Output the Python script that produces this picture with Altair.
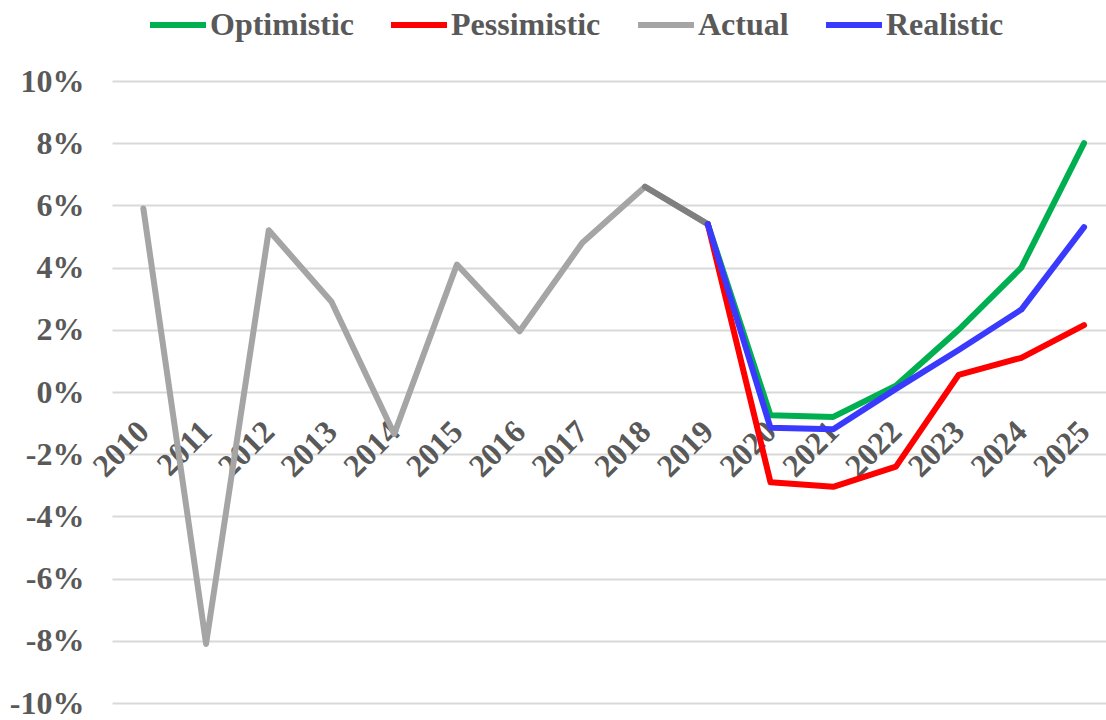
import altair as alt
import pandas as pd

# Annual growth rates (%), history and three forecast scenarios
actual_years = [2010, 2011, 2012, 2013, 2014, 2015, 2016, 2017, 2018, 2019]
actual = [5.9, -8.1, 5.2, 2.9, -1.35, 4.1, 1.95, 4.8, 6.6, 5.4]

forecast_years = [2019, 2020, 2021, 2022, 2023, 2024, 2025]
optimistic = [5.4, -0.75, -0.8, 0.2, 2.0, 4.0, 8.0]
pessimistic = [5.4, -2.9, -3.05, -2.4, 0.55, 1.1, 2.15]
realistic = [5.4, -1.15, -1.2, 0.1, 1.35, 2.65, 5.3]

year_ticks = list(range(2010, 2026))
pct_ticks = [-10, -8, -6, -4, -2, 0, 2, 4, 6, 8, 10]

series_order = ["Optimistic", "Pessimistic", "Actual", "Realistic"]
series_colors = ["#00B050", "#FF0000", "#A5A5A5", "#3A3AFF"]

rows = []
for name, yrs, vals in [
    ("Actual", actual_years, actual),
    ("Optimistic", forecast_years, optimistic),
    ("Pessimistic", forecast_years, pessimistic),
    ("Realistic", forecast_years, realistic),
]:
    for yr, v in zip(yrs, vals):
        rows.append({"year": yr, "series": name, "value": v})
df = pd.DataFrame(rows)

# last historical segment is shown in a darker grey
last_seg = pd.DataFrame({"year": actual_years[-2:], "value": actual[-2:]})

FONT = "Liberation Serif"
TEXT = "#595959"
PLOT_H = 622
LINE_W = 6

x_enc = alt.X(
    "year:Q",
    title=None,
    scale=alt.Scale(domain=[2009.5, 2025.35], nice=False, zero=False),
    axis=alt.Axis(
        values=year_ticks,
        format="d",
        orient="bottom",
        offset=-PLOT_H / 2,
        domain=False,
        ticks=False,
        tickSize=0,
        grid=False,
        labelAngle=-45,
        labelAlign="right",
        labelBaseline="middle",
        labelPadding=34,
        labelOverlap=False,
        labelFlush=False,
        labelBound=False,
        labelFont=FONT,
        labelFontSize=32,
        labelFontWeight="bold",
        labelColor=TEXT,
    ),
)
y_enc = alt.Y(
    "value:Q",
    title=None,
    scale=alt.Scale(domain=[-10, 10], nice=False),
    axis=alt.Axis(
        values=pct_ticks,
        labelExpr="datum.value + '%'",
        domain=False,
        ticks=False,
        tickSize=0,
        grid=True,
        gridColor="#D9D9D9",
        gridWidth=2,
        labelPadding=28,
        labelFont=FONT,
        labelFontSize=32,
        labelFontWeight="bold",
        labelColor=TEXT,
    ),
)
color_enc = alt.Color(
    "series:N",
    scale=alt.Scale(domain=series_order, range=series_colors),
    legend=alt.Legend(
        title=None,
        orient="none",
        direction="horizontal",
        legendX=35,
        legendY=-87,
        symbolType="stroke",
        symbolSize=3136,
        symbolStrokeWidth=LINE_W,
        labelFont=FONT,
        labelFontSize=32,
        labelFontWeight="bold",
        labelColor=TEXT,
        labelOffset=1,
        labelLimit=400,
        columnPadding=25,
    ),
)

base = alt.Chart(df)


def series_line(name):
    return (
        base.transform_filter(alt.datum.series == name)
        .mark_line(strokeWidth=LINE_W, strokeCap="round", strokeJoin="round")
        .encode(x=x_enc, y=y_enc, color=color_enc)
    )


dark = (
    alt.Chart(last_seg)
    .mark_line(strokeWidth=LINE_W, strokeCap="round", strokeJoin="round", color="#7F7F7F")
    .encode(x="year:Q", y="value:Q")
)

chart = (
    alt.layer(
        series_line("Actual"),
        dark,
        series_line("Optimistic"),
        series_line("Pessimistic"),
        series_line("Realistic"),
    )
    .properties(
        width=994,
        height=PLOT_H,
        autosize=alt.AutoSizeParams(type="none"),
        padding={"left": 112, "top": 81, "right": 0, "bottom": 17},
        background="white",
    )
    .configure_view(stroke=None)
)

chart.save("out.html", embed_options={"renderer": "svg", "actions": False})
